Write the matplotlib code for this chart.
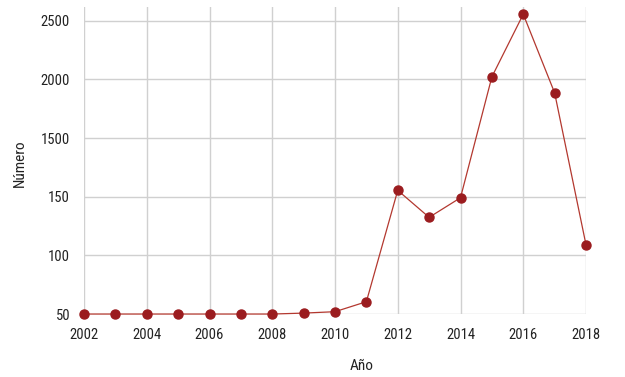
import matplotlib
matplotlib.use('Agg')
import matplotlib.pyplot as plt
from matplotlib import font_manager

# Data
years = [2002, 2003, 2004, 2005, 2006, 2007, 2008, 2009, 2010,
         2011, 2012, 2013, 2014, 2015, 2016, 2017, 2018]
values = [0, 0, 0, 0, 0, 0, 0, 8, 20,
          105, 1054, 824, 991, 2021, 2555, 1885, 590]
x_ticks = [2002, 2004, 2006, 2008, 2010, 2012, 2014, 2016, 2018]
y_ticks = [0, 500, 1000, 1500, 2000, 2500]
y_tick_labels = ['50', '100', '150', '1500', '2000', '2500']

# look for a condensed face
fonts = font_manager.fontManager.ttflist
names = {f.name for f in fonts}
stretch = 'normal'
font = 'Roboto'
for cand in ['Roboto Condensed', 'Liberation Sans Narrow', 'Open Sans Condensed']:
    if cand in names:
        font = cand
        break
else:
    if any(f.name == 'DejaVu Sans' and str(f.stretch) in ('condensed', '300')
           for f in fonts):
        font = 'DejaVu Sans'
        stretch = 'condensed'
plt.rcParams['font.family'] = [font, 'DejaVu Sans']
plt.rcParams['font.stretch'] = stretch

fig = plt.figure(figsize=(6.25, 3.77), dpi=100)
ax = fig.add_axes([0.1344, 0.167, 0.8032, 0.814])

ax.plot(years, values, color='#b3382f', linewidth=0.9, marker='o',
        markersize=6.5, markerfacecolor='#9b1c1f', markeredgecolor='#9b1c1f',
        clip_on=False, zorder=3)

ax.set_xlim(2002, 2018)
ax.set_ylim(0, 2615)
ax.set_xticks(x_ticks)
ax.set_yticks(y_ticks)
ax.set_yticklabels(y_tick_labels)

# grid lines
for y in y_ticks:
    ax.axhline(y, color='#d0d0d0', linewidth=1.0, zorder=1)
for x in x_ticks:
    ax.axvline(x, color='#d0d0d0', linewidth=1.0, zorder=1)

for s in ax.spines.values():
    s.set_visible(False)

ax.tick_params(axis='both', length=0, labelsize=10.5, colors='#222222')
ax.tick_params(axis='x', pad=10)
ax.tick_params(axis='y', pad=10)

ax.set_xlabel('Año', fontsize=11, color='#222222')
ax.set_ylabel('Número', fontsize=11, color='#222222')
ax.xaxis.set_label_coords(0.554, -0.169)
ax.yaxis.set_label_coords(-0.128, 0.49)
ax.xaxis.label.set_va('center')
ax.yaxis.label.set_va('center')

fig.savefig('out.png', dpi=100)
